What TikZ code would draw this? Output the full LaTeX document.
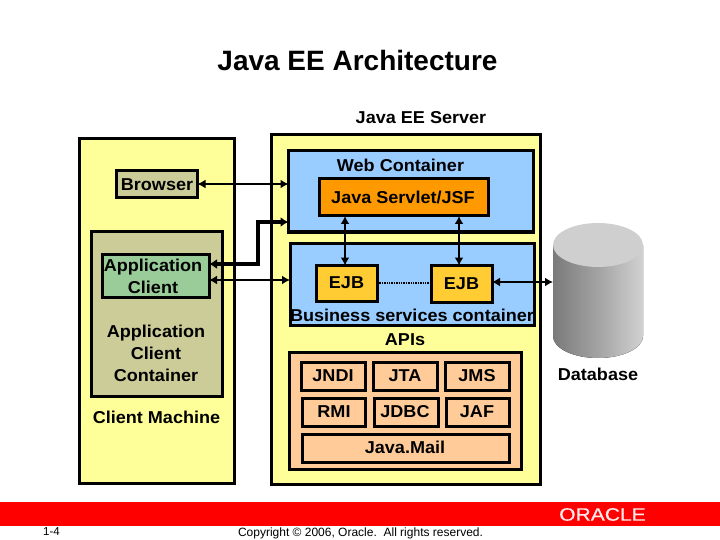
\documentclass[tikz,border=0pt]{standalone}
\usepackage{fontspec}
\setmainfont{Liberation Sans}
\newfontfamily\labfont[BoldFont={Liberation Sans Bold},BoldFeatures={FakeStretch=1.05}]{Liberation Sans}
\newfontfamily\titlefont[BoldFont={Liberation Sans Bold}]{Liberation Sans}
\newfontfamily\logofont[FakeBold=0.4]{Liberation Sans}
\usetikzlibrary{arrows.meta,shapes.geometric}
\definecolor{cyellow}{HTML}{FFFF99}
\definecolor{cbeige}{HTML}{CCCC99}
\definecolor{cgreen}{HTML}{99CC99}
\definecolor{cblue}{HTML}{99CCFF}
\definecolor{corange}{HTML}{FF9900}
\definecolor{cejb}{HTML}{FFCC33}
\definecolor{cpeach}{HTML}{FFCC99}
\newcommand{\bx}[6]{\node[boxed,fill=#6,minimum width={#4-#2},minimum height={#5-#3},align=center] (#1) at ({(#2+#4)/2},{(#3+#5)/2}) {};}
\tikzset{
  boxed/.style={draw=black,line width=3pt,inner sep=0pt,outer sep=0pt},
  lab/.style={font=\labfont\bfseries\fontsize{17.2}{22}\selectfont,align=center,inner sep=0pt,text=black},
  biarrow/.style={line width=2.8pt,{Latex[length=8pt,width=9pt]}-{Latex[length=8pt,width=9pt]}},
  bigarrow/.style={line width=4pt,{Latex[length=8pt,width=10pt]}-{Latex[length=8pt,width=10pt]}},
}
\begin{document}
\begin{tikzpicture}[x=1pt,y=-1pt]
\useasboundingbox (0,0) rectangle (720,540);
\fill[white] (0,0) rectangle (720,540);
% title
\node[inner sep=0pt,font=\titlefont\bfseries\fontsize{28}{32}\selectfont] (title) at (357.5,60) {Java EE Architecture};
\node[lab] (serverlab) at (421,118) {Java EE Server};
% client machine
\bx{client}{79}{138.5}{234}{483}{cyellow}
\bx{browser}{116.5}{170.5}{197.5}{197.5}{cbeige}
\bx{container}{91}{231.5}{222}{396}{cbeige}
\bx{appclient}{102.5}{254.5}{209}{297.5}{cgreen}
\node[lab] (browserlab) at (157,184.5) {Browser};
\node[lab] (appclientlab) at (153,276.5) {Application\\Client};
\node[lab] (containerlab) at (156,353) {Application\\Client\\Container};
\node[lab] (clientlab) at (156.5,417) {Client Machine};
% server
\bx{server}{271.5}{135}{540}{484}{cyellow}
\bx{web}{288.5}{151}{533}{232}{cblue}
\bx{servlet}{319.5}{179}{488}{216}{corange}
\bx{business}{290}{243.5}{534}{325}{cblue}
\bx{ejba}{316.5}{265.5}{377}{301}{cejb}
\bx{ejbb}{431.5}{265.5}{492}{302}{cejb}
\bx{apis}{289}{352}{521}{469}{cpeach}
\bx{jndi}{301}{362}{365.5}{390}{cpeach}
\bx{jta}{373}{362}{437.5}{390}{cpeach}
\bx{jms}{445}{362}{509.5}{390}{cpeach}
\bx{rmi}{302}{398}{365.5}{426}{cpeach}
\bx{jdbc}{374}{398}{438}{426}{cpeach}
\bx{jaf}{446}{398}{509.5}{426}{cpeach}
\bx{javamail}{302}{434.5}{509.5}{462}{cpeach}
\node[lab] (weblab) at (400.5,165) {Web Container};
\node[lab] (servletlab) at (403,197.5) {Java Servlet/JSF};
\node[lab] (ejbalab) at (346.5,283) {EJB};
\node[lab] (ejbblab) at (461.5,284) {EJB};
\node[lab] (businesslab) at (412,315) {Business services container};
\node[lab] (apislab) at (405,340) {APIs};
\node[lab] at (333,376) (jndilab) {JNDI};
\node[lab] at (405,376) (jtalab) {JTA};
\node[lab] at (477,376) (jmslab) {JMS};
\node[lab] at (334,412) (rmilab) {RMI};
\node[lab] at (405,412) (jdbclab) {JDBC};
\node[lab] at (477,412) (jaflab) {JAF};
\node[lab] at (405,447) (maillab) {Java.Mail};
% database
\fill[left color=black!52,right color=black!18,middle color=black!36]
  (553,245) -- (553,336) .. controls (553,348.2) and (573,358) .. (598,358)
  .. controls (623,358) and (643,348.2) .. (643,336) -- (643,245) -- cycle;
\node[ellipse,fill=black!19,inner sep=0pt,outer sep=0pt,minimum width=90pt,minimum height=44pt] (dbtop) at (598,245) {};
\node[inner sep=0pt,outer sep=0pt,minimum width=90pt,minimum height=135pt] (db) at (598,290.5) {};
\node[lab] (dblab) at (598,374) {Database};
% connectors
\coordinate (c1) at (258,264);
\coordinate (c2) at (258,222);
\coordinate (c4) at (209,280);
\draw[biarrow] (browser.east) -- (web.west |- browser.east);
\draw[bigarrow] (appclient.east |- c1) -- (c1) -- (c2) -- (web.west |- c2);
\draw[biarrow] (appclient.east |- c4) -- (business.west |- c4);
\coordinate (v1) at (345,217);
\coordinate (v2) at (459,217);
\draw[biarrow] (servlet.south -| v1) -- (ejba.north -| v1);
\draw[biarrow] (servlet.south -| v2) -- (ejbb.north -| v2);
\coordinate (e1) at (0,283);
\draw[line width=2.6pt,line cap=butt,dash pattern=on 1.4pt off 1pt] (ejba.east |- e1) -- (ejbb.west |- e1);
\coordinate (e2) at (0,282);
\draw[biarrow] (ejbb.east |- e2) -- (db.west |- e2);
% footer
\fill[red] (0,502) rectangle (720,526);
\node[font=\logofont\fontsize{18}{20}\selectfont,text=white!92!red,inner sep=0pt,xscale=1.17] (oracle) at (602.5,514.5) {ORACLE};
\node[inner sep=0pt,font=\fontsize{11.5}{12}\selectfont] (page) at (51.5,532) {1-4};
\node[inner sep=0pt,font=\fontsize{12}{14}\selectfont] (copy) at (360.5,533) {Copyright © 2006, Oracle.\ \ All rights reserved.};
\end{tikzpicture}
\end{document}
